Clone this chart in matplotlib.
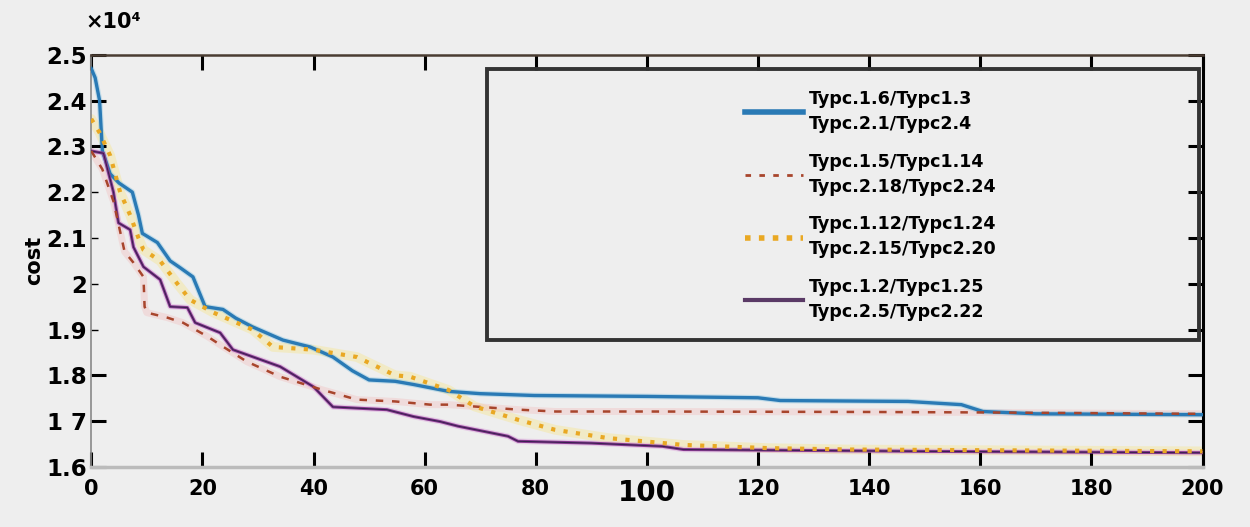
import matplotlib
matplotlib.use("Agg")
import matplotlib.pyplot as plt
from matplotlib.lines import Line2D
from matplotlib.patches import Rectangle

plt.rcParams['font.family'] = ['DejaVu Sans']
plt.rcParams['font.weight'] = 'bold'

# ---- data (cost in units of 1e4) ----
blue_x = [0, 0.7, 1.5, 2, 3.4, 5, 7.4, 8.5, 9.2, 11.9, 14.2, 16, 18.3, 20.5, 23.7, 26, 29, 34.5,
          39.4, 43.5, 47, 50, 54.7, 58, 64.3, 70, 79.7, 100, 120, 124, 147, 156.6, 160.5, 170, 200]
blue_y = [2.47, 2.45, 2.40, 2.29, 2.24, 2.22, 2.20, 2.15, 2.11, 2.09, 2.05, 2.035, 2.015, 1.95, 1.944,
          1.925, 1.906, 1.877, 1.862, 1.84, 1.81, 1.79, 1.787, 1.78, 1.765, 1.76, 1.756, 1.754, 1.751,
          1.745, 1.743, 1.736, 1.721, 1.716, 1.714]

red_x = [0, 2, 4, 6, 7.6, 9.4, 9.6, 10, 13.7, 16.5, 20.9, 23.8, 28, 34, 41.7, 47.8, 54.7, 61, 64.3,
         77, 83.6, 100, 140, 160, 200]
red_y = [2.29, 2.25, 2.18, 2.07, 2.046, 2.015, 1.95, 1.937, 1.926, 1.915, 1.885, 1.862, 1.83, 1.797,
         1.768, 1.747, 1.743, 1.736, 1.736, 1.725, 1.721, 1.721, 1.72, 1.719, 1.716]

yel_x = [0, 1.5, 3.4, 5.2, 7, 8.5, 9.4, 12.4, 15.5, 17.8, 22, 29, 32.7, 40, 47.8, 54.7, 57.4, 64.3,
         69, 76.8, 83.5, 93, 106.6, 122, 136.4, 200]
yel_y = [2.36, 2.33, 2.28, 2.20, 2.15, 2.10, 2.074, 2.05, 2.0, 1.965, 1.937, 1.9, 1.862, 1.856, 1.84,
         1.80, 1.797, 1.768, 1.732, 1.703, 1.681, 1.663, 1.648, 1.641, 1.638, 1.634]

pur_x = [0, 2.2, 4, 4.9, 7, 7.6, 9.4, 12.4, 14.2, 17.3, 18.7, 23.2, 25.5, 34, 40, 43.5, 53.2, 58,
         62.8, 66, 75, 76.8, 90, 102.8, 106.6, 150, 200]
pur_y = [2.29, 2.285, 2.2, 2.133, 2.118, 2.08, 2.037, 2.009, 1.95, 1.948, 1.915, 1.893, 1.856, 1.819,
         1.775, 1.731, 1.725, 1.71, 1.699, 1.689, 1.667, 1.656, 1.652, 1.645, 1.638, 1.634, 1.631]

labels = ["Typc.1.6/Typc1.3\nTypc.2.1/Typc2.4",
          "Typc.1.5/Typc1.14\nTypc.2.18/Typc2.24",
          "Typc.1.12/Typc1.24\nTypc.2.15/Typc2.20",
          "Typc.1.2/Typc1.25\nTypc.2.5/Typc2.22"]

xticks = [0, 20, 40, 60, 80, 100, 120, 140, 160, 180, 200]
yticks = [1.6, 1.7, 1.8, 1.9, 2.0, 2.1, 2.2, 2.3, 2.4, 2.5]
ytick_labels = ['1.6', '1 7', '1.8', '1.9', '2', '2.1', '2.2', '2.3', '2.4', '2.5']

# ---- styles ----
c_blue = '#2a7ab5'
c_red = '#a8452c'
c_yel = '#e9a823'
c_pur = '#8a3a92'
bg = '#eeeeee'

fig = plt.figure(figsize=(12.5, 5.27), dpi=100, facecolor=bg)
ax = fig.add_axes([0.073, 0.114, 0.889, 0.782], facecolor=bg)

# glows
ax.plot(yel_x, yel_y, color='#f7e47e', lw=7, alpha=0.35, solid_capstyle='round', zorder=1)
ax.plot(red_x, red_y, color='#f2b8b8', lw=5, alpha=0.35, zorder=1)
ax.plot(pur_x, pur_y, color='#d89ad8', lw=4, alpha=0.4, zorder=1)
ax.plot(blue_x, blue_y, color='#7fc0e0', lw=4, alpha=0.4, zorder=1)

ax.plot(blue_x, blue_y, color=c_blue, lw=2.4, zorder=3)
ax.plot(red_x, red_y, color=c_red, lw=1.8, ls=(0, (3, 3.5)), zorder=4)
ax.plot(yel_x, yel_y, color=c_yel, lw=3, ls=(0, (1, 2)), zorder=4)
ax.plot(pur_x, pur_y, color=c_pur, lw=2.2, zorder=3)
ax.plot(pur_x, pur_y, color='#3a2050', lw=0.8, zorder=3)

ax.set_xlim(0, 200)
ax.set_ylim(1.6, 2.5)
ax.set_xticks(xticks)
ax.set_xticklabels([str(v) for v in xticks], fontsize=15, fontweight='bold')
for lab in ax.get_xticklabels():
    if lab.get_text() == '100':
        lab.set_fontsize(20)
ax.set_yticks(yticks)
ax.set_yticklabels(ytick_labels, fontsize=16.5, fontweight='bold')

ax.tick_params(axis='both', direction='in', length=11, width=2.2, color='black',
               top=True, right=True)
ax.tick_params(axis='y', pad=3)
ax.tick_params(axis='x', pad=9)
for t in ax.yaxis.get_major_ticks():
    if t.get_loc() < 2.25 and t.get_loc() > 1.85:
        t.tick1line.set_color('#999999')
        t.tick1line.set_markeredgewidth(1)
        t.tick1line.set_markersize(5)

ax.spines['top'].set_color('#4a3c32')
ax.spines['top'].set_linewidth(1.8)
ax.spines['right'].set_color('black')
ax.spines['right'].set_linewidth(2.2)
ax.spines['left'].set_color('#888888')
ax.spines['left'].set_linewidth(1.2)
ax.spines['bottom'].set_color('#bbbbbb')
ax.spines['bottom'].set_linewidth(2.5)

ax.set_ylabel('cost', fontsize=15, fontweight='bold', labelpad=2)
fig.text(0.068, 0.958, '×10⁴', fontsize=15, fontweight='bold', ha='left', va='center')

# legend box
ax.add_patch(Rectangle((0.356, 0.308), 0.641, 0.658, transform=ax.transAxes, fill=False,
                       ec='#333333', lw=2.8, zorder=6))
handles = [Line2D([], [], color=c_blue, lw=4),
           Line2D([], [], color=c_red, lw=2, ls=(0, (2, 3))),
           Line2D([], [], color=c_yel, lw=4, ls=(0, (1, 1.5))),
           Line2D([], [], color='#5a3a66', lw=3)]
leg = ax.legend(handles, labels, loc='upper left', bbox_to_anchor=(0.574, 0.953), frameon=False,
                handlelength=3.3, handletextpad=0.36, labelspacing=1.12,
                prop={'weight': 'bold', 'size': 12.6})
for txt in leg.get_texts():
    txt.set_linespacing(1.5)

fig.savefig('out.png', dpi=100, facecolor=bg)
